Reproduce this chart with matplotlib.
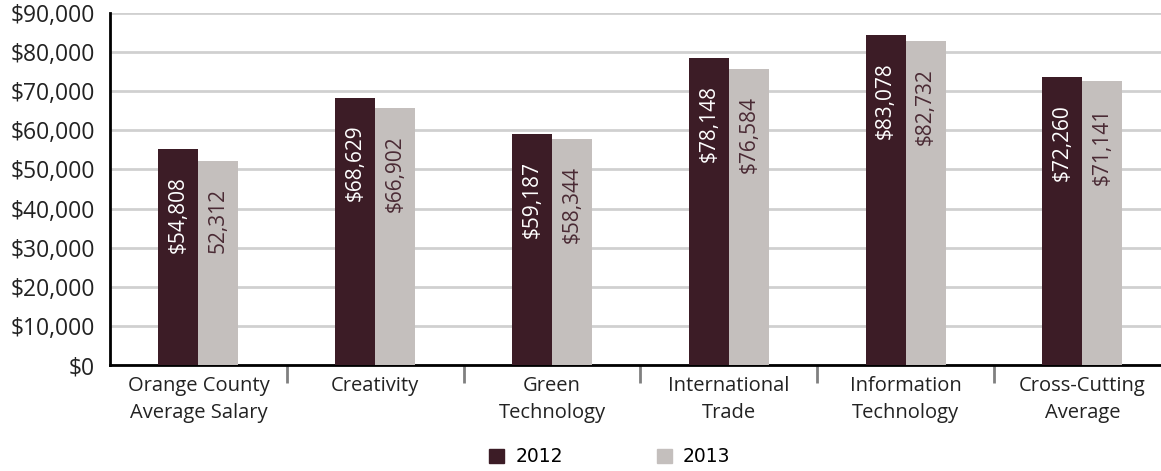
import matplotlib
matplotlib.use("Agg")
import matplotlib.pyplot as plt
import numpy as np
from matplotlib.ticker import FuncFormatter, FixedLocator
from matplotlib.patches import Patch

categories = ["Orange County\nAverage Salary", "Creativity", "Green\nTechnology",
              "International\nTrade", "Information\nTechnology", "Cross-Cutting\nAverage"]
heights_2012 = [55200, 68300, 59100, 78500, 84400, 73600]
heights_2013 = [52200, 65700, 57800, 75700, 82900, 72600]
labels_2012 = ["$54,808", "$68,629", "$59,187", "$78,148", "$83,078", "$72,260"]
labels_2013 = ["52,312", "$66,902", "$58,344", "$76,584", "$82,732", "$71,141"]
series_names = ["2012", "2013"]

c2012 = "#3c1c26"
c2013 = "#c4bfbd"
fam = ["Open Sans", "DejaVu Sans"]

fig = plt.figure(figsize=(11.61, 4.71), dpi=100)
ax = fig.add_axes([110/1161, 1 - 365/471, 6*176.8/1161, (365-13)/471])

x = np.arange(len(categories))
w = 0.226
b1 = ax.bar(x - w/2, heights_2012, w, color=c2012, zorder=3)
b2 = ax.bar(x + w/2, heights_2013, w, color=c2013, zorder=3)

for rect, lab in zip(b1, labels_2012):
    ax.annotate(lab, (rect.get_x() + rect.get_width()/2, rect.get_height()),
                xytext=(0, -27), textcoords="offset pixels", rotation=90,
                ha="center", va="top", color="white", fontsize=15,
                family=fam, zorder=4)
for rect, lab in zip(b2, labels_2013):
    ax.annotate(lab, (rect.get_x() + rect.get_width()/2, rect.get_height()),
                xytext=(0, -27), textcoords="offset pixels", rotation=90,
                ha="center", va="top", color="#4a2a34", fontsize=15,
                family=fam, zorder=4)

ax.set_xlim(-0.5, len(categories) - 0.5)
ax.set_ylim(0, 90000)
ax.set_yticks(np.arange(0, 90001, 10000))
ax.yaxis.set_major_formatter(FuncFormatter(lambda v, p: f"${int(v):,}"))
ax.grid(axis="y", color="#d0d0d0", linewidth=2, zorder=0)
ax.set_axisbelow(True)

ax.set_xticks(x)
ax.set_xticklabels(categories, fontsize=14.5, family=fam, color="#222222", linespacing=1.45)
ax.xaxis.set_minor_locator(FixedLocator(np.arange(0.5, len(categories) - 0.5, 1)))
ax.tick_params(axis="x", which="major", length=0, pad=8)
ax.tick_params(axis="x", which="minor", length=13, width=2, color="#808080")
ax.tick_params(axis="y", length=0, pad=11)
for t in ax.get_yticklabels():
    t.set_fontsize(16.5)
    t.set_family(fam)
    t.set_color("#222222")

for s in ["top", "right"]:
    ax.spines[s].set_visible(False)
ax.spines["left"].set_linewidth(2)
ax.spines["left"].set_color("black")
ax.spines["bottom"].set_linewidth(2)
ax.spines["bottom"].set_color("black")

handles = [Patch(color=c2012), Patch(color=c2013)]
fig.legend(handles, series_names, loc="center", bbox_to_anchor=(610/1161, 1 - 457/471),
           ncol=2, frameon=False, fontsize=13.5, handlelength=0.8, handleheight=0.8,
           columnspacing=5.0, handletextpad=0.6)

fig.savefig("out.png", dpi=100)
